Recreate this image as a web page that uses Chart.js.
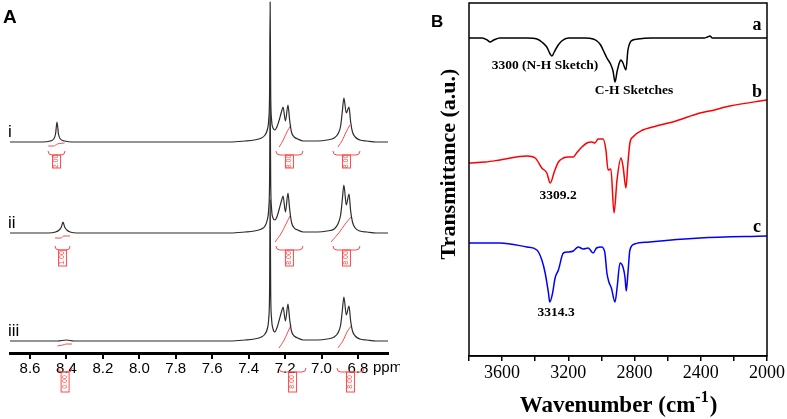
<!DOCTYPE html>
<html>
<head>
<meta charset="utf-8">
<script src="https://cdn.jsdelivr.net/npm/chart.js@4.4.1/dist/chart.umd.min.js"></script>
<style>
    body { margin: 0; background: #fff; }
    #wrap { position: relative; width: 787px; height: 419px; }
    canvas { position: absolute; top: 0; }
    #nmrChart { left: 0; }
    #irChart { left: 400px; }
</style>
</head>
<body>
<div id="wrap">
    <canvas id="nmrChart" width="400" height="419"></canvas>
    <canvas id="irChart" width="387" height="419"></canvas>
</div>
<script>
// ---- panel A : 1H NMR, [ppm, intensity above own baseline] ----
const nmrTrace1 = [[8.71,0],[8.53,0],[8.49,1],[8.47,3],[8.46,8],[8.452,20],[8.444,8],[8.434,3],[8.41,1],[8.37,0],
    [7.50,0],[7.42,1],[7.37,2],[7.33,4],[7.31,7],[7.298,12],[7.29,22],[7.285,50],[7.282,140],[7.279,50],[7.274,22],[7.266,14],[7.256,12],
    [7.245,15],[7.232,22],[7.22,30],[7.211,35],[7.198,21],[7.184,37],[7.175,22],[7.165,10],[7.15,5],[7.13,3],[7.10,1],[7.02,1],
    [6.97,2],[6.93,4],[6.91,8],[6.895,16],[6.886,30],[6.877,44],[6.864,29],[6.849,35],[6.840,20],[6.830,10],[6.815,5],[6.79,2],[6.75,1],[6.70,0],[6.635,0]];
const nmrTrace2 = [[8.71,0],[8.50,0],[8.46,1],[8.44,3],[8.428,6],[8.419,11],[8.41,6],[8.398,3],[8.38,1],[8.34,0],
    [7.50,0],[7.42,1],[7.37,2],[7.33,4],[7.31,7],[7.298,13],[7.29,24],[7.285,52],[7.282,133],[7.279,52],[7.274,24],[7.266,15],[7.256,13],
    [7.245,16],[7.232,24],[7.22,32],[7.211,37],[7.198,21],[7.184,40],[7.175,24],[7.165,11],[7.15,5],[7.13,3],[7.10,1],[7.02,1],
    [6.97,2],[6.93,4],[6.91,9],[6.895,18],[6.886,33],[6.877,48],[6.864,28],[6.849,39],[6.840,22],[6.830,11],[6.815,5],[6.79,2],[6.75,1],[6.70,0],[6.635,0]];
const nmrTrace3 = [[8.71,0],[8.45,0],[8.40,1],[8.36,0],
    [7.50,0],[7.42,1],[7.37,2],[7.33,4],[7.31,7],[7.298,12],[7.29,22],[7.285,50],[7.282,141],[7.279,50],[7.274,22],[7.266,12],[7.256,9],
    [7.245,13],[7.232,21],[7.22,29],[7.211,34],[7.198,20],[7.184,37],[7.175,22],[7.165,10],[7.15,5],[7.13,3],[7.10,1],[7.02,1],
    [6.97,2],[6.93,4],[6.91,8],[6.895,16],[6.886,30],[6.877,44],[6.864,26],[6.849,35],[6.840,20],[6.830,10],[6.815,5],[6.79,2],[6.75,1],[6.70,0],[6.635,0]];
const nmrBaselines = [211, 120, 12];
const nmrTraceNames = ['i', 'ii', 'iii'];
const nmrTicks = [8.6, 8.4, 8.2, 8.0, 7.8, 7.6, 7.4, 7.2, 7.0, 6.8];

// integration ranges [from ppm, to ppm, value] and integral curves
const nmrIntegrals = [
    [[8.501, 8.408, '2.00'], [7.250, 7.102, '8.00'], [6.937, 6.789, '8.00']],
    [[8.463, 8.380, '1.00'], [7.250, 7.102, '8.00'], [6.937, 6.789, '8.00']],
    [[8.446, 8.369, '0.00'], [7.233, 7.085, '8.00'], [6.915, 6.767, '8.00']]
];
const nmrIntegralCurves = [
    [[[8.50,-4],[8.47,-4],[8.45,-2],[8.41,-1]], [[7.232,-5],[7.21,2],[7.19,10],[7.167,17]], [[6.910,-5],[6.885,2],[6.865,10],[6.844,17]]],
    [[[8.463,-5],[8.43,-5],[8.415,-3],[8.38,-3]], [[7.255,-9],[7.22,0],[7.195,9],[7.173,17]], [[6.948,-9],[6.905,0],[6.87,9],[6.833,17]]],
    [[[8.45,-5],[8.42,-4],[8.40,-3],[8.37,-3]], [[7.233,-7],[7.205,1],[7.185,9],[7.167,16]], [[6.910,-7],[6.880,1],[6.860,9],[6.833,16]]]
];

// ---- panel B : FTIR ----
const irWaveA = [3800,3720,3690,3673,3650,3613,3450,3390,3360,3330,3310,3299,3285,3265,3240,3200,3100,3050,3027,3005,2990,2967,2945,2930,2918,2905,2890,2882,2870,2852,2840,2825,2810,2780,2700,2500,2380,2360,2345,2330,2300,2100,2000];
const irTransA = [318,318,316,314,316,318,318,317,314,309,302,300,304,310,315,318,318,317,315,311,306,298,292,285,274,285,294,296,293,286,306,314,316,317,318,318,318,319,320,318,318,318,318];
const irWaveB = [3800,3700,3613,3450,3400,3360,3330,3309,3285,3260,3230,3200,3170,3150,3118,3088,3058,3040,3020,2990,2973,2960,2943,2924,2906,2882,2869,2852,2840,2828,2810,2750,2690,2550,2405,2345,2225,2000];
const irTransB = [193,194,196,200,198,188,183,173,184,194,198,199,199,203,209,213,214,213,217,217,206,186,187,143,176,198,189,168,193,213,219,226,229,235,243,245,250,256];
const irWaveC = [3800,3613,3450,3390,3360,3340,3320,3312,3295,3280,3260,3230,3200,3170,3140,3110,3080,3050,3030,3000,2980,2967,2955,2940,2918,2905,2888,2870,2858,2850,2840,2828,2800,2710,2405,2000];
const irTransC = [113,113,109,106,96,83,63,54,63,78,86,103,104,105,109,107,108,103,108,109,104,83,74,68,54,69,93,89,79,65,83,106,112,114,118,120];
const irSeriesNames = ['a', 'b', 'c'];
const irSeriesColors = ['#000000', '#ff0000', '#0000ff'];
const irAnnotations = [
    ['3300 (N-H Sketch)', 3341, 287],
    ['C-H Sketches', 2803, 262],
    ['3309.2', 3262, 157],
    ['3314.3', 3274, 40]
];
const irNameAnchor = [[2060, 326], [2060, 259], [2060, 124]];

const RED = '#ff4a4a';

class SpectraFigure {
    constructor() {
        Chart.defaults.font.family = '"Liberation Sans", Arial, sans-serif';
        Chart.defaults.color = '#000';
        this.setupNmrChart();
        this.setupIrChart();
    }

    setupNmrChart() {
        const traces = [nmrTrace1, nmrTrace2, nmrTrace3];
        const datasets = traces.map((trace, i) => ({
            data: trace.map(p => ({ x: p[0], y: p[1] + nmrBaselines[i] })),
            borderColor: '#2b2b2b',
            borderWidth: 1.2,
            pointRadius: 0,
            cubicInterpolationMode: 'monotone'
        }));
        nmrIntegralCurves.forEach((curves, i) => {
            curves.forEach(curve => {
                datasets.push({
                    data: curve.map(p => ({ x: p[0], y: p[1] + nmrBaselines[i] })),
                    borderColor: RED,
                    borderWidth: 1,
                    pointRadius: 0,
                    cubicInterpolationMode: 'monotone'
                });
            });
        });

        const decorations = {
            id: 'nmrDecorations',
            afterDraw(chart) {
                const { ctx, scales: { x, y } } = chart;
                ctx.save();
                ctx.fillStyle = '#000';
                ctx.font = 'bold 19px "Liberation Sans", Arial, sans-serif';
                ctx.fillText('A', 3, 23);
                ctx.font = '17px "Liberation Sans", Arial, sans-serif';
                nmrTraceNames.forEach((name, i) => {
                    ctx.fillText(name, 8, y.getPixelForValue(nmrBaselines[i]) - 5);
                });
                ctx.font = '15px "Liberation Sans", Arial, sans-serif';
                ctx.fillText('ppm', 373, 372);

                // integration brackets
                const drop = [9, 13, 27];
                const boxH = [13, 16, 20];
                ctx.strokeStyle = RED;
                ctx.fillStyle = RED;
                ctx.lineWidth = 1;
                nmrIntegrals.forEach((list, t) => {
                    const top = y.getPixelForValue(nmrBaselines[t]) + drop[t];
                    list.forEach(([from, to, label]) => {
                        const x1 = x.getPixelForValue(from);
                        const x2 = x.getPixelForValue(to);
                        const xm = (x1 + x2) / 2;
                        ctx.beginPath();
                        ctx.moveTo(x1, top);
                        ctx.quadraticCurveTo(x1, top + 4, x1 + 4, top + 4);
                        ctx.lineTo(x2 - 4, top + 4);
                        ctx.quadraticCurveTo(x2, top + 4, x2, top);
                        ctx.stroke();
                        ctx.strokeRect(xm - 4, top + 4, 8, boxH[t]);
                        ctx.save();
                        ctx.translate(xm, top + 4 + boxH[t] / 2);
                        ctx.rotate(-Math.PI / 2);
                        ctx.font = '7px "Liberation Sans", Arial, sans-serif';
                        ctx.textAlign = 'center';
                        ctx.textBaseline = 'middle';
                        ctx.fillText(label, 0, 0);
                        ctx.restore();
                    });
                });
                ctx.restore();
            }
        };

        new Chart(document.getElementById('nmrChart'), {
            type: 'line',
            data: { datasets },
            options: {
                responsive: false,
                animation: false,
                devicePixelRatio: 1,
                layout: { padding: { left: 10, right: 12, top: 0, bottom: 0 } },
                plugins: { legend: { display: false }, tooltip: { enabled: false } },
                scales: {
                    x: {
                        type: 'linear',
                        reverse: true,
                        min: 6.635,
                        max: 8.71,
                        border: { color: '#000', width: 3 },
                        grid: { drawOnChartArea: false, color: '#000', lineWidth: 2, tickLength: 6 },
                        ticks: {
                            color: '#000',
                            font: { size: 15 },
                            padding: 1,
                            maxRotation: 0,
                            autoSkip: false,
                            callback: v => v.toFixed(1)
                        },
                        afterBuildTicks: scale => { scale.ticks = nmrTicks.map(v => ({ value: v })); },
                        afterFit: scale => { scale.height = 66; }
                    },
                    y: { display: false, min: 0, max: 353 }
                }
            },
            plugins: [decorations]
        });
    }

    setupIrChart() {
        const waves = [irWaveA, irWaveB, irWaveC];
        const trans = [irTransA, irTransB, irTransC];
        const datasets = waves.map((w, i) => ({
            label: irSeriesNames[i],
            data: w.map((v, k) => ({ x: v, y: trans[i][k] })),
            borderColor: irSeriesColors[i],
            borderWidth: 1.5,
            pointRadius: 0,
            cubicInterpolationMode: 'monotone'
        }));

        const decorations = {
            id: 'irDecorations',
            afterDraw(chart) {
                const { ctx, chartArea: area, scales: { x, y } } = chart;
                ctx.save();
                ctx.strokeStyle = '#000';
                ctx.lineWidth = 1.5;
                ctx.strokeRect(area.left, area.top, area.right - area.left, area.bottom - area.top);

                ctx.fillStyle = '#000';
                ctx.font = 'bold 17px "Liberation Sans", Arial, sans-serif';
                ctx.fillText('B', 31, 27);

                ctx.font = 'bold 18px "Liberation Serif", "Times New Roman", serif';
                ctx.textAlign = 'center';
                irNameAnchor.forEach(([wn, t], i) => {
                    ctx.fillText(irSeriesNames[i], x.getPixelForValue(wn), y.getPixelForValue(t));
                });

                ctx.font = 'bold 13.5px "Liberation Serif", "Times New Roman", serif';
                irAnnotations.forEach(([text, wn, t]) => {
                    ctx.fillText(text, x.getPixelForValue(wn), y.getPixelForValue(t));
                });

                // y title
                ctx.save();
                ctx.translate(49, 164);
                ctx.rotate(-Math.PI / 2);
                ctx.font = 'bold 22px "Liberation Serif", "Times New Roman", serif';
                ctx.textBaseline = 'middle';
                ctx.fillText('Transmittance (a.u.)', 0, 0);
                ctx.restore();

                // x title with superscript
                const main = 'Wavenumber (cm';
                const sup = '-1';
                const big = 'bold 23px "Liberation Serif", "Times New Roman", serif';
                const small = 'bold 16px "Liberation Serif", "Times New Roman", serif';
                ctx.textAlign = 'left';
                ctx.font = big;
                const w1 = ctx.measureText(main).width;
                const w3 = ctx.measureText(')').width;
                ctx.font = small;
                const w2 = ctx.measureText(sup).width;
                let tx = (area.left + area.right) / 2 - (w1 + w2 + w3) / 2;
                const ty = 412;
                ctx.font = big;
                ctx.fillText(main, tx, ty);
                ctx.font = small;
                ctx.fillText(sup, tx + w1, ty - 10);
                ctx.font = big;
                ctx.fillText(')', tx + w1 + w2 + 1, ty);
                ctx.restore();
            }
        };

        new Chart(document.getElementById('irChart'), {
            type: 'line',
            data: { datasets },
            options: {
                responsive: false,
                animation: false,
                devicePixelRatio: 1,
                layout: { padding: { left: 0, right: 20, top: 3, bottom: 0 } },
                plugins: { legend: { display: false }, tooltip: { enabled: false } },
                scales: {
                    x: {
                        type: 'linear',
                        reverse: true,
                        min: 2000,
                        max: 3800,
                        border: { color: '#000', width: 1.5 },
                        grid: { drawOnChartArea: false, color: '#000', lineWidth: 1.5, tickLength: 5 },
                        ticks: {
                            stepSize: 200,
                            color: '#000',
                            font: { family: '"Liberation Serif", "Times New Roman", serif', size: 18 },
                            padding: 1,
                            maxRotation: 0,
                            autoSkip: false,
                            callback: v => (v % 400 === 0 ? String(v) : '')
                        },
                        afterFit: scale => { scale.height = 63; }
                    },
                    y: {
                        min: 0,
                        max: 353,
                        border: { display: false },
                        grid: { display: false },
                        ticks: { display: false },
                        afterFit: scale => { scale.width = 69; }
                    }
                }
            },
            plugins: [decorations]
        });
    }
}

new SpectraFigure();
</script>
</body>
</html>
